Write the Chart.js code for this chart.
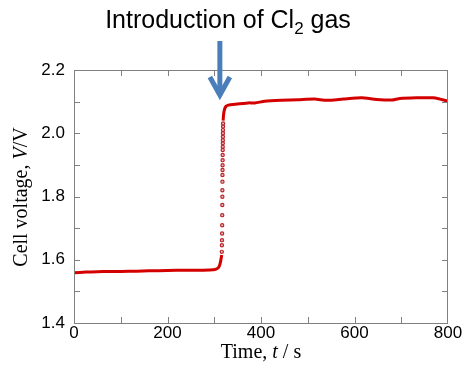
<!DOCTYPE html>
<html>
<head>
<meta charset="utf-8">
<script src="https://cdn.jsdelivr.net/npm/chart.js@4"></script>
<style>
  html, body { margin: 0; padding: 0; background: #fff; }
  #wrap { width: 465px; height: 368px; }
</style>
</head>
<body>
<div id="wrap"><canvas id="chart" width="465" height="368"></canvas></div>
<script>
// before Cl2 is introduced
const preTime = [0, 25, 50, 75, 100, 134, 160, 200, 240, 277, 298, 304, 309, 312, 314, 316];
const preVolt = [1.559, 1.561, 1.562, 1.563, 1.563, 1.564, 1.565, 1.566, 1.567, 1.567, 1.568, 1.570, 1.575, 1.585, 1.598, 1.615];

// fast jump, only single samples visible
const jumpTime = [316.2, 316.4, 316.6, 316.8, 317.0, 317.1, 317.2, 317.3, 317.4, 317.5, 317.6, 317.7, 317.8, 317.9, 318.0, 318.1, 318.2, 318.3, 318.4, 318.5, 318.6, 318.7, 318.8, 318.9];
const jumpVolt = [1.625, 1.646, 1.662, 1.683, 1.709, 1.741, 1.773, 1.799, 1.820, 1.847, 1.868, 1.884, 1.899, 1.915, 1.931, 1.947, 1.957, 1.968, 1.978, 1.989, 2.000, 2.010, 2.021, 2.031];

// after Cl2 is introduced
const postTime = [319, 320, 322, 325, 330, 345, 373, 387, 408, 444, 480, 515, 540, 576, 615, 647, 680, 697, 733, 768, 783, 797, 800];
const postVolt = [2.040, 2.060, 2.076, 2.085, 2.089, 2.092, 2.096, 2.096, 2.101, 2.104, 2.106, 2.108, 2.104, 2.108, 2.112, 2.107, 2.105, 2.110, 2.112, 2.112, 2.108, 2.103, 2.104];

const xTicks = [0, 200, 400, 600, 800];
const yTicks = [1.4, 1.6, 1.8, 2.0, 2.2];
const arrowTime = 312;

function pts(t, v) {
    return t.map((x, i) => ({ x: x, y: v[i] }));
}

const SANS = "'Liberation Sans', Arial, sans-serif";
const SERIF = "'Liberation Serif', 'Times New Roman', serif";

// frame, inward ticks, titles and arrow
const decor = {
    id: "decor",
    afterDraw(chart) {
        const ctx = chart.ctx;
        const a = chart.chartArea;
        const xs = chart.scales.x;
        const ys = chart.scales.y;
        ctx.save();
        ctx.strokeStyle = "#808080";
        ctx.lineWidth = 1;
        ctx.strokeRect(a.left + 0.5, a.top + 0.5, a.right - a.left - 1, a.bottom - a.top);
        ctx.beginPath();
        xs.ticks.forEach(t => {
            if (t.value <= xs.min || t.value >= xs.max) return;
            const px = Math.round(xs.getPixelForValue(t.value)) + 0.5;
            ctx.moveTo(px, a.bottom); ctx.lineTo(px, a.bottom - 6);
            ctx.moveTo(px, a.top); ctx.lineTo(px, a.top + 6);
        });
        ys.ticks.forEach(t => {
            if (t.value <= ys.min + 1e-6 || t.value >= ys.max - 1e-6) return;
            const py = Math.round(ys.getPixelForValue(t.value)) + 0.5;
            ctx.moveTo(a.left, py); ctx.lineTo(a.left + 6, py);
            ctx.moveTo(a.right, py); ctx.lineTo(a.right - 6, py);
        });
        ctx.stroke();

        // title with subscript
        ctx.fillStyle = "#000";
        ctx.textBaseline = "alphabetic";
        ctx.textAlign = "left";
        const big = "25px " + SANS, small = "17px " + SANS;
        const p1 = "Introduction of Cl", p2 = "2", p3 = " gas";
        ctx.font = big; const w1 = ctx.measureText(p1).width, w3 = ctx.measureText(p3).width;
        ctx.font = small; const w2 = ctx.measureText(p2).width;
        let x0 = 228 - (w1 + w2 + w3) / 2;
        ctx.font = big; ctx.fillText(p1, x0, 28);
        ctx.font = small; ctx.fillText(p2, x0 + w1, 34);
        ctx.font = big; ctx.fillText(p3, x0 + w1 + w2, 28);

        // x axis title, italic t
        const segX = [["Time, ", false], ["t", true], [" / s", false]];
        drawMixed(ctx, segX, (a.left + a.right) / 2, 358);

        // y axis title, italic V
        ctx.save();
        ctx.translate(27, 197);
        ctx.rotate(-Math.PI / 2);
        drawMixed(ctx, [["Cell voltage, ", false], ["V", true], ["/V", false]], 0, 0);
        ctx.restore();

        // arrow pointing at the gas introduction
        const ax = xs.getPixelForValue(arrowTime);
        ctx.strokeStyle = "#4a7ebb";
        ctx.lineWidth = 5;
        ctx.lineCap = "butt";
        ctx.lineJoin = "miter";
        ctx.beginPath();
        ctx.moveTo(ax, 41); ctx.lineTo(ax, 95);
        ctx.stroke();
        ctx.beginPath();
        ctx.moveTo(ax - 10, 77); ctx.lineTo(ax, 95); ctx.lineTo(ax + 10, 77);
        ctx.stroke();
        ctx.restore();
    }
};

function drawMixed(ctx, segs, cx, y) {
    const fonts = segs.map(s => (s[1] ? "italic " : "") + "20px " + SERIF);
    let total = 0;
    const widths = segs.map((s, i) => { ctx.font = fonts[i]; const w = ctx.measureText(s[0]).width; total += w; return w; });
    let x = cx - total / 2;
    ctx.textAlign = "left";
    ctx.textBaseline = "alphabetic";
    ctx.fillStyle = "#000";
    segs.forEach((s, i) => { ctx.font = fonts[i]; ctx.fillText(s[0], x, y); x += widths[i]; });
}

new Chart(document.getElementById("chart"), {
    type: "scatter",
    data: {
        datasets: [
            { data: pts(preTime, preVolt), showLine: true, borderColor: "#d40000", borderWidth: 3, pointRadius: 0, tension: 0.2 },
            { data: pts(jumpTime, jumpVolt), showLine: false, pointRadius: 1.6, pointBorderWidth: 1.2, pointBorderColor: "#b8262b", pointBackgroundColor: "rgba(220,120,120,0.5)" },
            { data: pts(postTime, postVolt), showLine: true, borderColor: "#d40000", borderWidth: 3, pointRadius: 0, tension: 0.2 }
        ]
    },
    options: {
        responsive: false,
        animation: false,
        layout: { padding: { top: 70, right: 17, left: 0, bottom: 0 } },
        plugins: { legend: { display: false }, tooltip: { enabled: false } },
        scales: {
            x: {
                type: "linear", min: 0, max: 800,
                afterFit(scale) { scale.height = 45; },
                grid: { drawOnChartArea: false, drawTicks: false },
                border: { display: false },
                ticks: {
                    stepSize: 100, autoSkip: false, maxRotation: 0, padding: 0,
                    color: "#000", font: { family: SANS, size: 17 },
                    callback: v => xTicks.includes(v) ? String(v) : ""
                }
            },
            y: {
                type: "linear", min: 1.4, max: 2.2,
                afterFit(scale) { scale.width = 74; },
                grid: { drawOnChartArea: false, drawTicks: false },
                border: { display: false },
                ticks: {
                    stepSize: 0.1, autoSkip: false, padding: 9,
                    color: "#000", font: { family: SANS, size: 17 },
                    callback: v => yTicks.some(t => Math.abs(t - v) < 1e-6) ? v.toFixed(1) : ""
                }
            }
        }
    },
    plugins: [decor]
});
</script>
</body>
</html>
